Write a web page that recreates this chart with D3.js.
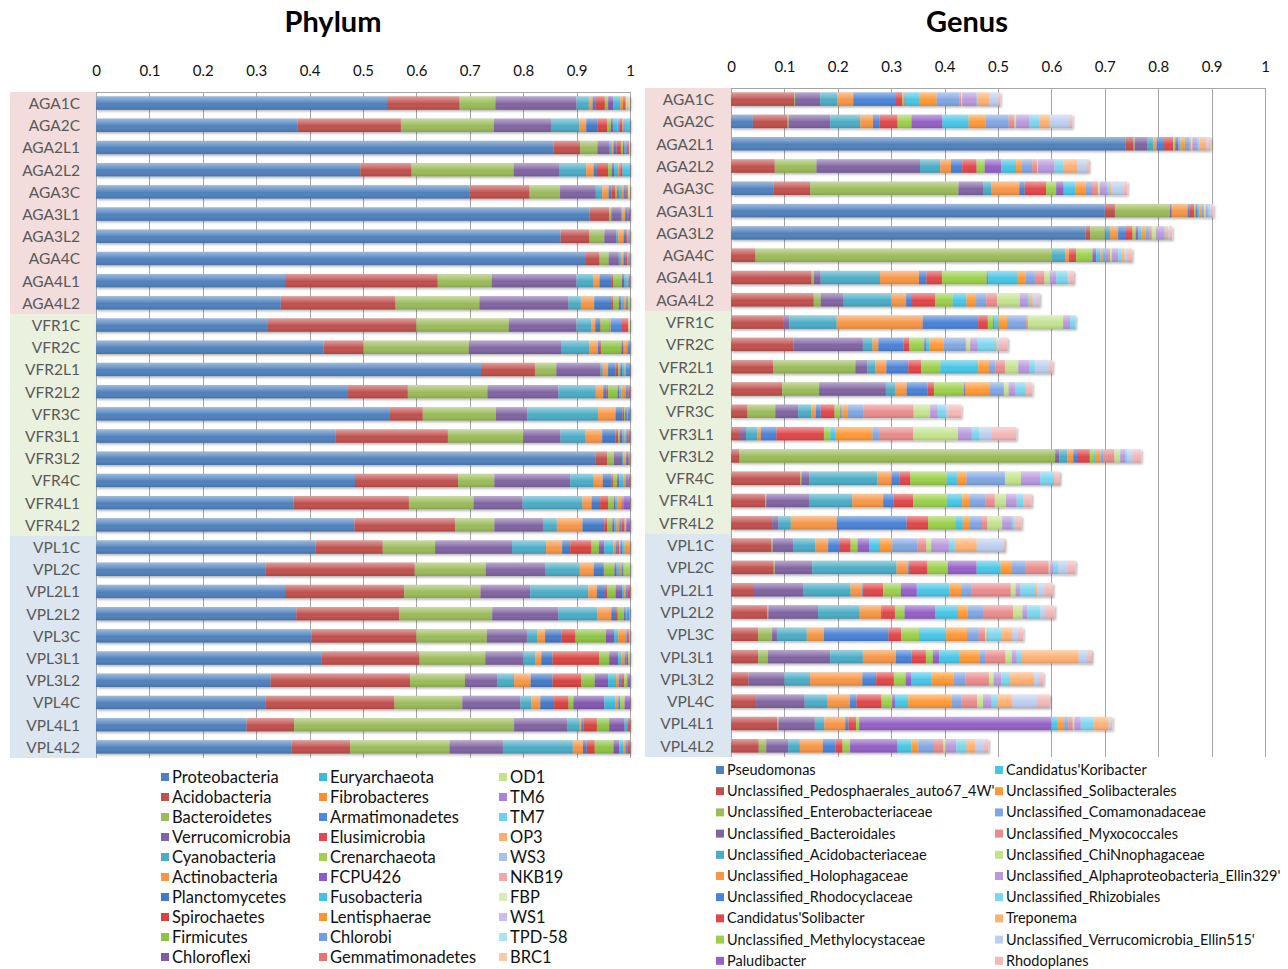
<!DOCTYPE html>
<html>
<head>
<meta charset="utf-8">
<script src="https://cdn.jsdelivr.net/npm/d3@7"></script>
<style>
body { margin: 0; background: #fff; }
text { font-family: Lato, "Open Sans", sans-serif; }
</style>
</head>
<body>
<script>
// samples (rows, top to bottom)
const samples = ['AGA1C','AGA2C','AGA2L1','AGA2L2','AGA3C','AGA3L1','AGA3L2','AGA4C','AGA4L1','AGA4L2',
  'VFR1C','VFR2C','VFR2L1','VFR2L2','VFR3C','VFR3L1','VFR3L2','VFR4C','VFR4L1','VFR4L2',
  'VPL1C','VPL2C','VPL2L1','VPL2L2','VPL3C','VPL3L1','VPL3L2','VPL4C','VPL4L1','VPL4L2'];

const ticks = [0, 0.1, 0.2, 0.3, 0.4, 0.5, 0.6, 0.7, 0.8, 0.9, 1];

const phylumNames = ['Proteobacteria','Acidobacteria','Bacteroidetes','Verrucomicrobia','Cyanobacteria',
  'Actinobacteria','Planctomycetes','Spirochaetes','Firmicutes','Chloroflexi',
  'Euryarchaeota','Fibrobacteres','Armatimonadetes','Elusimicrobia','Crenarchaeota',
  'FCPU426','Fusobacteria','Lentisphaerae','Chlorobi','Gemmatimonadetes',
  'OD1','TM6','TM7','OP3','WS3','NKB19','FBP','WS1','TPD-58','BRC1'];

const phylumColors = ['#4F81BD','#C0504D','#9BBB59','#8064A2','#4BACC6','#F79646',
  '#4479C6','#D8433F','#8DC443','#8257AE','#3CBADB','#F98F2E',
  '#4C88DD','#E3474F','#A1CF4E','#8F5BC9','#3FC4E6','#FF9430',
  '#709FE6','#EA7474','#C6E18E','#AA82D8','#6ED4EE','#FFAD6A',
  '#A9C1EC','#F1A9A9','#D7EBBB','#CFBCE6','#ABE5F4','#FCCAA7'];

// relative abundance per sample, in phylumNames order (missing = 0)
const phylumValues = [
  [.545,.136,.067,.152,.023,.007,.005,.018,.006,.010,.013,.005,.002,.003,0,0,0,0,0,0,.003,0,.002,0,0,0,0,0,0,.003],
  [.377,.194,.174,.107,.053,.013,.021,.018,.007,.004,.008,.002,.002,.006,.002,.002,.010],
  [.857,.050,.032,.023,.004,.003,.006,.008,.004,.003,.003,0,.003,.002,0,0,0,0,0,0,.002],
  [.495,.096,.191,.085,.051,.014,.006,.021,.007,.004,.008,.002,.002,.004,0,0,.014],
  [.699,.113,.057,.067,.012,.012,.005,.008,.003,.003,.006,.003,.005,.003,0,0,0,0,0,0,.004],
  [.924,.037,.004,.018,.003,.005,.004,.002,0,.003],
  [.870,.054,.028,.022,.004,.010,.005,.002,.002,.001,.002],
  [.916,.027,.017,.019,.004,.005,.004,.003,.002,.001,.002],
  [.354,.286,.101,.159,.031,.012,.023,.003,.016,.004,.005,.003,.003],
  [.346,.215,.157,.167,.023,.025,.033,.003,.010,.004,.006,.003,.002,.002,.004],
  [.322,.278,.173,.127,.028,.007,.009,.001,.016,.001,.001,.001,.021,.012,0,0,0,0,0,0,.003],
  [.426,.075,.197,.174,.052,.016,.004,.002,.038,.003,.002,.006,.005],
  [.721,.101,.040,.083,.004,.010,.014,.005,.004,.003,.005,.002,.006,.002],
  [.472,.112,.149,.133,.070,.014,.006,.003,.018,.003,.004,.008,.005,.003],
  [.549,.063,.137,.059,.132,.033,.013,.003,.002,.003,.002,0,.004],
  [.449,.210,.141,.070,.047,.031,.025,.005,.003,.005,.004,.003,.004,.003],
  [.936,.021,.013,.015,.002,.006,.004,.001,.001,.001],
  [.485,.193,.068,.142,.044,.017,.016,.003,.008,.004,.008,.004,.005,.003],
  [.370,.216,.121,.092,.112,.017,.016,.015,.011,.003,.003,.008,.002,.002,0,.012],
  [.484,.189,.073,.091,.026,.048,.041,.005,.010,.004,.004,.005,.004,.006,.003,.007],
  [.411,.126,.098,.144,.064,.030,.015,.040,.014,.010,.017,.004,.003,.004,.002,.003,.005,.010],
  [.318,.279,.133,.112,.064,.026,.018,.002,.019,.004,.006,.003,.004,0,.012],
  [.354,.223,.143,.093,.109,.016,.015,.004,.016,.012,.004,.003,.004,.004],
  [.375,.193,.174,.124,.073,.026,.009,.003,.012,.003,.003,0,.004],
  [.404,.196,.132,.075,.020,.014,.031,.026,.057,.015,.008,.015,.003,.002,.002],
  [.423,.183,.123,.071,.023,.011,.021,.087,.019,.017,.006,.006,.004,.003,.003],
  [.327,.261,.103,.060,.032,.031,.041,.054,.025,.025,.015,.005,.006,.004,.006,.005],
  [.317,.242,.127,.109,.020,.017,.026,.027,.009,.058,.021,.005,.004,0,.008,.010],
  [.282,.089,.412,.100,.023,.003,.004,.025,.023,.029,.005,0,0,.005],
  [.366,.110,.186,.100,.131,.019,.007,.015,.035,.011,.008,.004,.004,.004]
];

const genusNames = ['Pseudomonas','Unclassified_Pedosphaerales_auto67_4W\'','Unclassified_Enterobacteriaceae',
  'Unclassified_Bacteroidales','Unclassified_Acidobacteriaceae','Unclassified_Holophagaceae',
  'Unclassified_Rhodocyclaceae','Candidatus\'Solibacter','Unclassified_Methylocystaceae','Paludibacter',
  'Candidatus\'Koribacter','Unclassified_Solibacterales','Unclassified_Comamonadaceae',
  'Unclassified_Myxococcales','Unclassified_ChiNnophagaceae','Unclassified_Alphaproteobacteria_Ellin329\'',
  'Unclassified_Rhizobiales','Treponema','Unclassified_Verrucomicrobia_Ellin515\'','Rhodoplanes'];

const genusColors = ['#4F81BD','#C0504D','#9BBB59','#8064A2','#4BACC6','#F79646',
  '#4A82D6','#E0474B','#9BD04A','#9460C6','#48C6E6','#FF9935',
  '#82A6E2','#EA8C8C','#C4E38F','#BA99DE','#7CD6EE','#FFB173',
  '#BDCFEF','#F3B7B7'];

// relative abundance per sample, in genusNames order
const genusValues = [
  [0,.118,.002,.047,.032,.030,.080,.012,.004,.002,.025,.033,.043,.003,.002,.027,.002,.021,.017,.004],
  [.041,.065,.002,.078,.056,.024,.012,.034,.026,.058,.049,.032,.043,.011,.003,.025,.019,.019,.036,.006],
  [.739,.015,.002,.023,.012,.006,.014,.017,.004,.006,.004,.008,.008,.003,.003,.010,.003,.013,.004,.004],
  [0,.082,.078,.194,.038,.020,.021,.027,.015,.031,.028,.011,.019,.009,.002,.031,.017,.025,.018,.004],
  [.080,.068,.278,.046,.015,.053,.010,.040,.019,.014,.022,.019,.012,.011,.004,.013,.004,.004,.023,.007],
  [.700,.019,.103,.002,.002,.029,.003,.009,.003,.004,.003,.004,.003,.002,.003,.004,.002,.002,.002,.004],
  [.664,.009,.027,.002,.008,.015,.013,.014,.006,.005,.006,.008,.006,.005,.008,.016,.003,.004,.003,.004],
  [0,.046,.555,0,.025,.007,.002,.011,.031,.007,.008,.004,.010,.004,.003,.012,.006,.006,.004,.010],
  [0,.151,.004,.013,.111,.073,.014,.029,.084,.002,.056,.015,.017,.018,.010,.012,.021,.002,.002,.008],
  [0,.155,.013,.043,.089,.028,.011,.043,.033,0,.026,.018,.019,.020,.043,.015,.004,.005,.008,.005],
  [0,.099,0,.010,.089,.161,.104,.018,.010,.002,.008,.016,.036,.003,.066,.013,.010,0,0,0],
  [0,.117,0,.130,.018,.011,.047,.011,.028,.003,.007,.026,.041,.002,.007,.014,.035,.002,.003,.016],
  [0,.079,.154,.022,.015,.021,.041,.024,.036,0,.071,.020,.012,.018,.025,.021,.010,0,.026,.007],
  [0,.096,.069,.125,.017,.022,.039,.012,.056,.002,.002,.045,.026,0,.009,.013,.019,0,0,.012],
  [0,.031,.052,.043,.024,.009,.009,.026,.011,.002,.002,.009,.030,.094,.031,.014,.016,0,.004,.024],
  [0,.015,0,.013,.021,.007,.029,.089,.012,0,.010,.069,.012,.064,.084,.026,.014,0,.023,.046],
  [0,.016,.591,.008,.015,.011,.007,.024,.007,0,.003,.010,.006,.020,.011,.009,.004,0,.010,.016],
  [0,.130,.002,.015,.127,.027,.015,.020,.068,0,.019,.018,.072,0,.030,.036,.026,0,0,.011],
  [0,.064,.002,.080,.081,.058,.019,.037,.063,0,.029,.013,.030,.018,.021,.020,.012,0,0,.016],
  [0,.077,0,.012,.023,.086,.131,.040,.051,0,.014,.012,.024,.010,.028,.018,.005,0,0,.013],
  [0,.076,.002,.039,.041,.024,.022,.020,.013,.022,.020,.023,.047,.017,.009,.033,.011,.041,.049,.004],
  [.002,.078,.002,.070,.158,.022,.003,.033,.038,.054,.045,.020,.027,.043,.003,.005,.010,0,.018,.014],
  [0,.043,0,.093,.088,.022,.003,.036,.033,.030,.061,.022,.020,.073,.009,.009,.029,.002,.014,.016],
  [.002,.066,.002,.093,.078,.040,.002,.024,.018,.058,.042,.018,.029,.056,.018,.009,.024,0,.009,.018],
  [0,.051,.026,.009,.056,.032,.121,.024,.033,0,.051,.039,.022,.012,.003,.002,.025,.021,.011,.009],
  [0,.051,.018,.117,.061,.062,.029,.027,.013,.012,.037,.039,.011,.037,.012,.009,.010,.106,.016,.009],
  [0,.033,0,.067,.048,.098,.026,.033,.022,.011,.037,.042,.022,.044,.009,.014,.017,.045,.009,.008],
  [0,.047,0,.091,.043,.042,.012,.047,.020,.005,.025,.081,.018,.030,.011,.016,.010,.029,.046,.024],
  [0,.087,.002,.068,.018,.039,.006,.014,.006,.360,.012,.012,.008,.008,.003,.012,.024,.028,.004,.003],
  [0,.052,.014,.041,.022,.043,.024,.013,.014,.089,.026,.013,.029,.018,.004,.020,.019,.016,.016,.009]
];

const groupNames = ['AGA', 'VFR', 'VPL'];
const groupColors = ['#F2DDDC', '#EBF1DF', '#DCE6F1'];

const svg = d3.select('body').append('svg')
  .attr('width', 1288)
  .attr('height', 969);

// bar shading + shadow like the office chart
const defs = svg.append('defs');
const shine = defs.append('linearGradient').attr('id', 'shine')
  .attr('x1', 0).attr('y1', 0).attr('x2', 0).attr('y2', 1);
shine.append('stop').attr('offset', '0%').attr('stop-color', '#fff').attr('stop-opacity', 0.45);
shine.append('stop').attr('offset', '35%').attr('stop-color', '#fff').attr('stop-opacity', 0.18);
shine.append('stop').attr('offset', '55%').attr('stop-color', '#fff').attr('stop-opacity', 0);
shine.append('stop').attr('offset', '100%').attr('stop-color', '#000').attr('stop-opacity', 0.14);
defs.append('filter').attr('id', 'shadow')
  .attr('x', '-5%').attr('y', '-40%').attr('width', '110%').attr('height', '200%')
  .append('feDropShadow')
  .attr('dx', 1.5).attr('dy', 1.5).attr('stdDeviation', 1)
  .attr('flood-color', '#000').attr('flood-opacity', 0.3);

function drawPanel(p) {
  const g = svg.append('g');
  const x = d3.scaleLinear().domain([0, 1]).range([p.x0, p.x1]);
  const y = d3.scaleBand().domain(samples).range([p.top, p.bottom])
    .paddingInner(0.4).paddingOuter(0.2);
  const step = y.step();

  // title
  g.append('text')
    .attr('x', p.titleX).attr('y', 32)
    .attr('text-anchor', 'middle')
    .style('font-size', '29px').style('font-weight', 'bold')
    .attr('fill', '#000')
    .text(p.title);

  // group boxes behind the sample labels
  groupNames.forEach((gn, i) => {
    const rows = samples.filter((s) => s.startsWith(gn));
    const yTop = y(rows[0]) - step * 0.2;
    const yBot = y(rows[rows.length - 1]) + y.bandwidth() + step * 0.2;
    g.append('rect')
      .attr('x', p.boxX).attr('y', yTop)
      .attr('width', p.x0 - p.boxX).attr('height', yBot - yTop)
      .attr('fill', groupColors[i]);
  });

  // sample labels
  g.selectAll('.lab').data(samples).join('text')
    .attr('class', 'lab')
    .attr('x', p.labelRight)
    .attr('y', (d) => y(d) + y.bandwidth() / 2 + 0.5)
    .attr('dy', '0.35em')
    .attr('text-anchor', 'end')
    .attr('fill', '#595959')
    .style('font-size', '15.5px')
    .text((d) => d);

  // grid
  g.selectAll('.grid').data(ticks).join('line')
    .attr('class', 'grid')
    .attr('x1', (d) => Math.round(x(d)) + 0.5).attr('x2', (d) => Math.round(x(d)) + 0.5)
    .attr('y1', p.top).attr('y2', p.bottom)
    .attr('stroke', '#A6A6A6').attr('stroke-width', 1);
  g.append('line')
    .attr('x1', p.x0).attr('x2', p.x1)
    .attr('y1', p.top + 0.5).attr('y2', p.top + 0.5)
    .attr('stroke', '#A6A6A6');

  // tick labels
  const axis = d3.axisTop(x).tickValues(ticks).tickSize(0).tickPadding(0)
    .tickFormat(d3.format('~g'));
  const ga = g.append('g').attr('transform', `translate(0,${p.tickY})`).call(axis);
  ga.select('.domain').remove();
  ga.selectAll('text')
    .attr('dy', '0.35em')
    .attr('fill', '#111')
    .style('font-size', '15px')
    .style('font-family', 'Lato, "Open Sans", sans-serif');

  // stacked bars
  const nCat = p.names.length;
  const series = d3.stack()
    .keys(d3.range(nCat))
    .value((row, k) => row[k] || 0)(p.values);

  const rowsG = g.selectAll('.row').data(samples).join('g')
    .attr('class', 'row')
    .attr('filter', 'url(#shadow)');

  rowsG.each(function(s, j) {
    const rg = d3.select(this);
    const segs = series.map((ser, k) => ({k: k, x0: ser[j][0], x1: ser[j][1]}))
      .filter((d) => d.x1 > d.x0);
    rg.selectAll('rect.seg').data(segs).join('rect')
      .attr('class', 'seg')
      .attr('x', (d) => x(d.x0))
      .attr('width', (d) => x(d.x1) - x(d.x0))
      .attr('y', y(s))
      .attr('height', y.bandwidth())
      .attr('fill', (d) => p.colors[d.k]);
    const total = d3.sum(p.values[j]);
    rg.append('rect')
      .attr('x', x(0)).attr('width', x(total) - x(0))
      .attr('y', y(s)).attr('height', y.bandwidth())
      .attr('fill', 'url(#shine)');
  });

  // legend
  const per = p.legendRows;
  const lg = g.selectAll('.leg').data(p.names).join('g')
    .attr('class', 'leg')
    .attr('transform', (d, i) => `translate(${p.legendX[Math.floor(i / per)]},${p.legendY + (i % per) * p.legendStep})`);
  lg.append('rect')
    .attr('x', 0).attr('y', -4)
    .attr('width', 8).attr('height', 8)
    .attr('fill', (d, i) => p.colors[i]);
  lg.append('text')
    .attr('x', 11).attr('dy', '0.35em')
    .attr('fill', '#111')
    .style('font-size', p.legendFont)
    .text((d) => d);
}

drawPanel({
  title: 'Phylum', titleX: 333,
  x0: 96, x1: 630, top: 92, bottom: 758,
  boxX: 10, labelRight: 80, tickY: 71,
  names: phylumNames, colors: phylumColors, values: phylumValues,
  legendX: [161, 319, 499], legendY: 777, legendStep: 20, legendRows: 10, legendFont: '16.5px'
});

drawPanel({
  title: 'Genus', titleX: 967,
  x0: 731, x1: 1265, top: 88, bottom: 757,
  boxX: 645, labelRight: 714, tickY: 67,
  names: genusNames, colors: genusColors, values: genusValues,
  legendX: [716, 995], legendY: 770, legendStep: 21.2, legendRows: 10, legendFont: '14.5px'
});
</script>
</body>
</html>
